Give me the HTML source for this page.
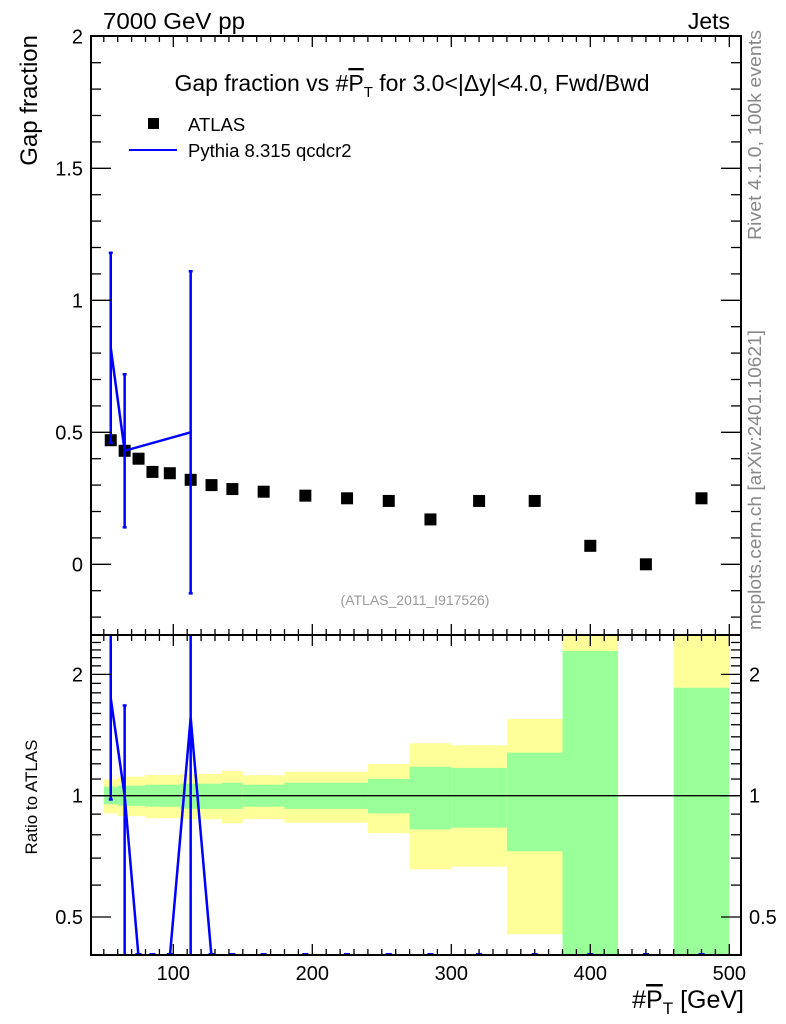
<!DOCTYPE html>
<html><head><meta charset="utf-8"><style>
html,body{margin:0;padding:0;background:#fff;}
svg{display:block;font-family:"Liberation Sans",Arial,sans-serif;}
</style></head><body>
<svg id="chart" width="786" height="1024" viewBox="0 0 786 1024" xmlns="http://www.w3.org/2000/svg">
<rect width="786" height="1024" fill="#fff"/>
<g id="bands"></g>
<g id="ratioRef"></g>
<g id="ratioMc"></g>
<g id="mainData"></g>
<g id="mainMc"></g>
<g id="axes"></g>
<text x="103" y="29" font-size="23" textLength="142" lengthAdjust="spacingAndGlyphs">7000 GeV pp</text>
<text x="730" y="29" font-size="23" text-anchor="end">Jets</text>
<text x="412" y="91" font-size="23" text-anchor="middle">Gap fraction vs #<tspan text-decoration="overline">P</tspan><tspan font-size="15" dy="6">T</tspan><tspan dy="-6"> for 3.0&lt;|Δy|&lt;4.0, Fwd/Bwd</tspan></text>
<g>
<rect x="148" y="118" width="11" height="11" fill="#000"/>
<text x="188" y="131" font-size="18.5">ATLAS</text>
<line x1="129" y1="150" x2="177" y2="150" stroke="#0000ff" stroke-width="2"/>
<text x="188" y="157" font-size="18.5">Pythia 8.315 qcdcr2</text>
</g>
<text x="415" y="605" font-size="14" fill="#999" text-anchor="middle">(ATLAS_2011_I917526)</text>
<text transform="translate(37,35) rotate(-90)" font-size="24" text-anchor="end">Gap fraction</text>
<text transform="translate(37,797) rotate(-90)" font-size="17" text-anchor="middle">Ratio to ATLAS</text>
<text transform="translate(761,135) rotate(-90)" font-size="18" fill="#888" text-anchor="middle" textLength="210" lengthAdjust="spacingAndGlyphs">Rivet 4.1.0,  100k events</text>
<text transform="translate(761,480) rotate(-90)" font-size="18" fill="#888" text-anchor="middle" textLength="300" lengthAdjust="spacingAndGlyphs">mcplots.cern.ch [arXiv:2401.10621]</text>
<text x="744" y="1008" font-size="25" text-anchor="end">#<tspan text-decoration="overline">P</tspan><tspan font-size="17" dy="6">T</tspan><tspan dy="-6"> [GeV]</tspan></text>
</svg>
<script>
const binEdges=[50,60,70,80,90,105,120,135,150,180,210,240,270,300,340,380,420,460,500];
const dataX=[55,65,75,85,97.5,112.5,127.5,142.5,165,195,225,255,285,320,360,400,440,480];
const dataY=[0.47,0.43,0.40,0.35,0.345,0.32,0.30,0.285,0.275,0.26,0.25,0.24,0.17,0.24,0.24,0.07,0.0,0.25];
const mcY=[0.82,0.43,0,0,0,0.50,0,0,0,0,0,0,0,0,0,0,0,0];
const mcErrLo=[0.46,0.14,0,0,0,-0.11,0,0,0,0,0,0,0,0,0,0,0,0];
const mcErrHi=[1.18,0.72,0,0,0,1.11,0,0,0,0,0,0,0,0,0,0,0,0];
const bandBinLo=[50,60,80,105,135,150,180,240,270,300,340,380,460];
const bandBinHi=[60,80,105,135,150,180,240,270,300,340,380,420,500];
const yellowUp=[1.098,1.115,1.126,1.132,1.152,1.124,1.147,1.198,1.349,1.334,1.55,3,3];
const yellowDn=[0.904,0.890,0.879,0.874,0.854,0.875,0.857,0.807,0.657,0.667,0.453,0.2,0.2];
const greenUp=[1.053,1.059,1.065,1.071,1.077,1.065,1.077,1.10,1.18,1.172,1.279,2.286,1.853];
const greenDn=[0.952,0.944,0.939,0.928,0.928,0.939,0.928,0.904,0.825,0.833,0.728,0.2,0.2];
const mainYTicks=[0,0.5,1,1.5,2];
const mainYLabels=["0","0.5","1","1.5","2"];
const xTicks=[100,200,300,400,500];
const xLabels=["100","200","300","400","500"];
const ratioTicks=[0.5,1,2];
const ratioLabels=["0.5","1","2"];

const L=91,R=741,MT=36,MB=635,RT=635,RB=955;
const X=v=>34.3+1.39*v;
const Y=v=>564.3-264*v;
const RY=r=>{const lr=Math.log10(Math.max(r,0.3));return 795.7-403*lr;};
const NS="http://www.w3.org/2000/svg";
function mk(tag,parent,attrs){const e=document.createElementNS(NS,tag);for(const k in attrs)e.setAttribute(k,attrs[k]);parent.appendChild(e);return e;}
const clampR=y=>Math.min(Math.max(y,RT),RB);

const bands=document.getElementById('bands');
for(let i=0;i<bandBinLo.length;i++){
  const x1=X(bandBinLo[i]),x2=X(bandBinHi[i]);
  const ty=clampR(RY(yellowUp[i])),by=clampR(RY(yellowDn[i]));
  const y=mk('rect',bands,{x:x1,y:ty,width:x2-x1,height:by-ty,fill:'#ffff99'});
  
  
  const tg=clampR(RY(greenUp[i])),bg=clampR(RY(greenDn[i]));
  const g=mk('rect',bands,{x:x1,y:tg,width:x2-x1,height:bg-tg,fill:'#99ff99'});
  
  
}
const rl=mk('line',document.getElementById('ratioRef'),{x1:L,x2:R,y1:RY(1),y2:RY(1),stroke:'#000','stroke-width':1.3});



const md=document.getElementById('mainData');
dataX.forEach((x,i)=>{
  const r=mk('rect',md,{x:X(x)-6,y:Y(dataY[i])-6,width:12,height:12,fill:'#000'});
  
  
});
const mm=document.getElementById('mainMc');
let pts=[];
dataX.forEach((x,i)=>{ if(mcY[i]>0){pts.push(X(x)+','+Y(mcY[i]));
  const e=mk('line',mm,{x1:X(x),x2:X(x),y1:Y(mcErrLo[i]),y2:Y(mcErrHi[i]),stroke:'#0000ff','stroke-width':2.5});
  
  
  [mcErrLo[i],mcErrHi[i]].forEach(v=>{const c=mk('line',mm,{x1:X(x)-2,x2:X(x)+2,y1:Y(v),y2:Y(v),stroke:'#0000ff','stroke-width':2.5});
  
  });
}});
const ml=mk('polyline',mm,{points:pts.join(' '),fill:'none',stroke:'#0000ff','stroke-width':2.5});



const rm=document.getElementById('ratioMc');
const clip=mk('clipPath',rm,{id:'rclip'});
mk('rect',clip,{x:L,y:RT,width:R-L,height:RB-RT});
const rg=mk('g',rm,{'clip-path':'url(#rclip)'});
let rp=[];
dataX.forEach((x,i)=>{
  const ratio=dataY[i]>0?mcY[i]/dataY[i]:0;
  const yy=ratio>0?RY(ratio):RB+2;
  rp.push(X(x)+','+yy);
  if(mcY[i]>0&&dataY[i]>0){
    const lo=mcErrLo[i]/dataY[i],hi=mcErrHi[i]/dataY[i];
    const y1=lo>0?RY(lo):RB+5,y2=RY(hi);
    const e=mk('line',rg,{x1:X(x),x2:X(x),y1:y1,y2:y2,stroke:'#0000ff','stroke-width':2.5});
    
    
    [y1,y2].forEach(v=>{if(v>RT+2&&v<RB-2){const c=mk('line',rg,{x1:X(x)-2,x2:X(x)+2,y1:v,y2:v,stroke:'#0000ff','stroke-width':2.5});
    
    }});
  } else {
    const t=mk('line',rg,{x1:X(x)-3,x2:X(x)+3,y1:RB-1,y2:RB-1,stroke:'#0000ff','stroke-width':2});
    
    
  }
});
const rpl=mk('polyline',rg,{points:rp.join(' '),fill:'none',stroke:'#0000ff','stroke-width':2.5});



const ax=document.getElementById('axes');
const f1=mk('rect',ax,{x:L,y:MT,width:R-L,height:MB-MT,fill:'none',stroke:'#000','stroke-width':2});


const f2=mk('rect',ax,{x:L,y:RT,width:R-L,height:RB-RT,fill:'none',stroke:'#000','stroke-width':2});


function tick(x1,y1,x2,y2){mk('line',ax,{x1,y1,x2,y2,stroke:'#000','stroke-width':1.3});}
for(let v=50;v<=500;v+=10){const x=X(v);const big=v%100===0;const len=big?11:6;
  [MT,RT].forEach(y0=>tick(x,y0,x,y0+len));
  [MB,RB].forEach(y0=>tick(x,y0,x,y0-len));}
for(let v=-0.2;v<=2.001;v+=0.1){const y=Y(v);if(y<MT||y>MB)continue;const big=Math.abs(v*2-Math.round(v*2))<1e-6;const len=big?20:10;
  tick(L,y,L+len,y);tick(R,y,R-len,y);}
const rmin=[0.4,0.5,0.6,0.7,0.8,0.9,1,1.1,1.2,1.3,1.4,1.5,1.6,1.7,1.8,1.9,2,2.1,2.2,2.3,2.4,2.5];
rmin.forEach(r=>{const y=RY(r);if(y<RT||y>RB)return;const big=ratioTicks.includes(r);const len=big?20:10;tick(L,y,L+len,y);tick(R,y,R-len,y);});
mainYTicks.forEach((v,i)=>{const t=mk('text',ax,{x:L-8,y:Y(v)+7,'font-size':20,'text-anchor':'end'});t.textContent=mainYLabels[i];
  
  });
ratioTicks.forEach((v,i)=>{const t=mk('text',ax,{x:L-8,y:RY(v)+7,'font-size':20,'text-anchor':'end'});t.textContent=ratioLabels[i];
  
  
  const t2=mk('text',ax,{x:R+8,y:RY(v)+7,'font-size':20,'text-anchor':'start'});t2.textContent=ratioLabels[i];
  
  });
xTicks.forEach((v,i)=>{const t=mk('text',ax,{x:X(v),y:980,'font-size':20,'text-anchor':'middle'});t.textContent=xLabels[i];
  
  });
</script>
</body></html>
